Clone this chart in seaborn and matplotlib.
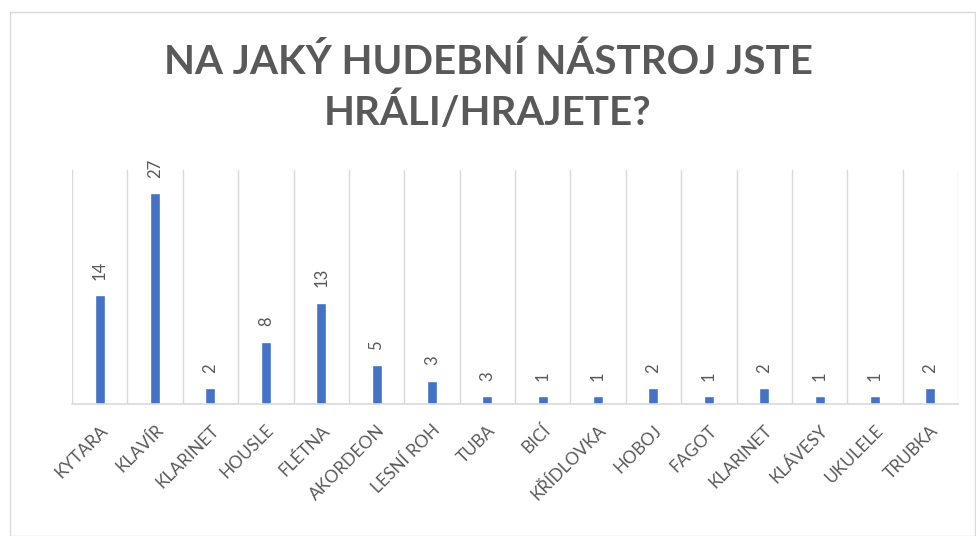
import numpy as np
import pandas as pd
import matplotlib.pyplot as plt
import seaborn as sns
from matplotlib.patches import Rectangle

nastroje = ['KYTARA', 'KLAVÍR', 'KLARINET', 'HOUSLE', 'FLÉTNA', 'AKORDEON', 'LESNÍ ROH', 'TUBA',
            'BICÍ', 'KŘÍDLOVKA', 'HOBOJ', 'FAGOT', 'KLARINET', 'KLÁVESY', 'UKULELE', 'TRUBKA']
pocty = [14, 27, 2, 8, 13, 5, 3, 1, 1, 1, 2, 1, 2, 1, 1, 2]
popisky = ['14', '27', '2', '8', '13', '5', '3', '3', '1', '1', '2', '1', '2', '1', '1', '2']

sns.set_style('white')
plt.rcParams['font.family'] = ['Lato', 'DejaVu Sans']
seda = '#595959'

df = pd.DataFrame({'poz': range(len(pocty)), 'pocet': pocty})

fig = plt.figure(figsize=(9.76, 5.36), dpi=100)
ax = fig.add_axes([72/976, 1-404/536, (958-72)/976, (404-170)/536])

sns.barplot(data=df, x='poz', y='pocet', color='#4472C4', width=0.18, saturation=1, ax=ax)

ax.set_ylim(0, 30)
ax.set_xlim(-0.5, len(pocty)-0.5)
ax.set_yticks([])
ax.set_xticks(range(len(nastroje)))
ax.set_xticklabels(nastroje, rotation=45, ha='right', rotation_mode='anchor',
                   color=seda, fontsize=12.5)
ax.tick_params(axis='x', length=0, pad=13)
ax.set_xticks(np.arange(-0.5, len(pocty), 1), minor=True)
ax.tick_params(axis='x', which='minor', length=0)
ax.grid(True, axis='x', which='minor', color='#d9d9d9', lw=1)
ax.set_xlabel('')
ax.set_ylabel('')
for s in ['top', 'left', 'right']:
    ax.spines[s].set_visible(False)
ax.spines['bottom'].set_color('#d9d9d9')
ax.spines['bottom'].set_linewidth(1.2)

for i, (v, t) in enumerate(zip(pocty, popisky)):
    ax.annotate(t, (i, v), xytext=(0, 11), textcoords='offset points',
                rotation=90, ha='center', va='bottom', color=seda, fontsize=12)

fig.text(0.5, 1-88/536, 'NA JAKÝ HUDEBNÍ NÁSTROJ JSTE\nHRÁLI/HRAJETE?', ha='center', va='center',
         fontsize=29, fontweight='bold', color=seda, linespacing=1.35)

fig.patches.append(Rectangle((10/976, 0), 965/976, 1-12/536, transform=fig.transFigure,
                             fill=False, edgecolor='#d9d9d9', lw=1))

fig.savefig('out.png', dpi=100)
